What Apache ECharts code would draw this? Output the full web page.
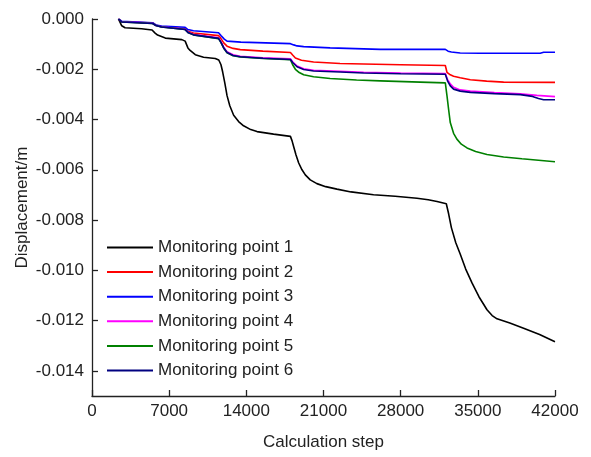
<!DOCTYPE html>
<html>
<head>
<meta charset="utf-8">
<title>Displacement vs calculation step</title>
<script src="https://cdn.jsdelivr.net/npm/echarts@6/dist/echarts.min.js"></script>
<style>
  html, body { margin: 0; padding: 0; background: #fff; }
  #chart { width: 591px; height: 457px; }
</style>
</head>
<body>
<div id="chart"></div>
<script>
// Monitoring point displacement histories (m) against calculation step
const seriesNames = ['Monitoring point 1', 'Monitoring point 2', 'Monitoring point 3',
                     'Monitoring point 4', 'Monitoring point 5', 'Monitoring point 6'];

const point1Steps = [2400, 2700, 3000, 4500, 5450, 5700, 5950, 6650, 8150, 8450, 8700, 8900, 9370, 10120, 11180, 11500, 11700, 11850, 12050, 12250, 12500, 12850, 13300, 13750, 14400, 14970, 16470, 18000, 18150, 18290, 18500, 18750, 19050, 19350, 19800, 20400, 21200, 22220, 23500, 25540, 27500, 29480, 30500, 31300, 32140, 32350, 32600, 33000, 33400, 33900, 34470, 35100, 35830, 36300, 36740, 37900, 39150, 40600, 42000];
const point1Values = [0, -0.00027, -0.00035, -0.00039, -0.00044, -0.00055, -0.00064, -0.00076, -0.00082, -0.00088, -0.00115, -0.00125, -0.00142, -0.00152, -0.00157, -0.00163, -0.00182, -0.00210, -0.00255, -0.00305, -0.00345, -0.00383, -0.00408, -0.00425, -0.00440, -0.00448, -0.00458, -0.00467, -0.00485, -0.00507, -0.00540, -0.00573, -0.00600, -0.00620, -0.00640, -0.00655, -0.00667, -0.00677, -0.00688, -0.00699, -0.00705, -0.00713, -0.00719, -0.00726, -0.00735, -0.00775, -0.00830, -0.00890, -0.00935, -0.00995, -0.01050, -0.01105, -0.01157, -0.01180, -0.01193, -0.01210, -0.01230, -0.01255, -0.01284];

const point2Steps = [2400, 2700, 5500, 5800, 6300, 8450, 8750, 9200, 11480, 11700, 11950, 12250, 12800, 13450, 15500, 18000, 18200, 18450, 19000, 20100, 22500, 24640, 28000, 32050, 32200, 32500, 32800, 33400, 34320, 35800, 37340, 42000];
const point2Values = [0, -0.00010, -0.00016, -0.00025, -0.00030, -0.00039, -0.00050, -0.00056, -0.00066, -0.00078, -0.00095, -0.00108, -0.00117, -0.00122, -0.00128, -0.00133, -0.00143, -0.00155, -0.00164, -0.00171, -0.00177, -0.00179, -0.00182, -0.00185, -0.00212, -0.00222, -0.00228, -0.00234, -0.00242, -0.00247, -0.00251, -0.00252];

const point3Steps = [2400, 2700, 5500, 5800, 6300, 8450, 8700, 9200, 11480, 11700, 12000, 12250, 13500, 15000, 18000, 18300, 18600, 19200, 21600, 26150, 32050, 32300, 32600, 33400, 35200, 40660, 40970, 42000];
const point3Values = [0, -0.00009, -0.00015, -0.00024, -0.00028, -0.00033, -0.00042, -0.00047, -0.00055, -0.00066, -0.00080, -0.00088, -0.00092, -0.00094, -0.00098, -0.00103, -0.00107, -0.00110, -0.00115, -0.00121, -0.00121, -0.00128, -0.00131, -0.00135, -0.00136, -0.00136, -0.00132, -0.00132];

const point4Steps = [2400, 2700, 5500, 5800, 6300, 8450, 8750, 9200, 11480, 11700, 11950, 12250, 12800, 13450, 15500, 18000, 18200, 18600, 19200, 20100, 22500, 24640, 28000, 32050, 32250, 32500, 32800, 33400, 34320, 36500, 38850, 40360, 42000];
const point4Values = [0, -0.00011, -0.00017, -0.00026, -0.00031, -0.00041, -0.00053, -0.00061, -0.00075, -0.00090, -0.00112, -0.00130, -0.00142, -0.00148, -0.00154, -0.00158, -0.00170, -0.00187, -0.00198, -0.00204, -0.00208, -0.00212, -0.00215, -0.00217, -0.00240, -0.00258, -0.00272, -0.00282, -0.00287, -0.00293, -0.00298, -0.00304, -0.00309];

const point5Steps = [2400, 2700, 5500, 5800, 6300, 8450, 8750, 9200, 11480, 11700, 11950, 12250, 12800, 13450, 15500, 18000, 18200, 18450, 18800, 19200, 20100, 21600, 24000, 26150, 29780, 32050, 32200, 32350, 32500, 32800, 33100, 33500, 34020, 34800, 35830, 37340, 39000, 40500, 42000];
const point5Values = [0, -0.00012, -0.00018, -0.00026, -0.00032, -0.00042, -0.00055, -0.00063, -0.00078, -0.00094, -0.00116, -0.00134, -0.00146, -0.00151, -0.00157, -0.00162, -0.00182, -0.00200, -0.00213, -0.00222, -0.00230, -0.00237, -0.00243, -0.00246, -0.00251, -0.00254, -0.00305, -0.00360, -0.00412, -0.00455, -0.00478, -0.00498, -0.00513, -0.00527, -0.00539, -0.00549, -0.00556, -0.00562, -0.00568];

const point6Steps = [2400, 2700, 5500, 5800, 6300, 8450, 8750, 9200, 11480, 11700, 11950, 12250, 12800, 13450, 15500, 18000, 18200, 18600, 19200, 20100, 22500, 24640, 28000, 32050, 32250, 32500, 32800, 33400, 34320, 36500, 38850, 39960, 40500, 40970, 42000];
const point6Values = [0, -0.00012, -0.00018, -0.00026, -0.00032, -0.00042, -0.00055, -0.00063, -0.00077, -0.00093, -0.00115, -0.00133, -0.00145, -0.00150, -0.00156, -0.00161, -0.00173, -0.00190, -0.00201, -0.00207, -0.00211, -0.00215, -0.00218, -0.00220, -0.00246, -0.00266, -0.00279, -0.00287, -0.00292, -0.00297, -0.00301, -0.00308, -0.00316, -0.00321, -0.00321];

const seriesColors = ['#000000', '#ff0000', '#0000ff', '#ff00ff', '#008000', '#000080'];

const yTickValues = [0, -0.002, -0.004, -0.006, -0.008, -0.010, -0.012, -0.014];

const stepLists = [point1Steps, point2Steps, point3Steps, point4Steps, point5Steps, point6Steps];
const valueLists = [point1Values, point2Values, point3Values, point4Values, point5Values, point6Values];

const zip = (xs, ys) => xs.map((x, i) => [x, ys[i]]);

const textColor = '#222';
const font = 'Liberation Sans, Arial, sans-serif';

const chart = echarts.init(document.getElementById('chart'), null, { renderer: 'canvas' });

chart.setOption({
  animation: false,
  backgroundColor: '#fff',
  grid: { left: 92, right: 36, top: 19, bottom: 61 },
  legend: {
    orient: 'vertical',
    left: 102,
    top: 234,
    icon: 'rect',
    itemWidth: 46,
    itemHeight: 2,
    itemGap: 7.6,
    data: seriesNames,
    textStyle: { fontFamily: font, fontSize: 17, color: textColor }
  },
  xAxis: {
    type: 'value',
    min: 0,
    max: 42000,
    interval: 7000,
    name: 'Calculation step',
    nameLocation: 'middle',
    nameGap: 38,
    nameMoveOverlap: false,
    nameTextStyle: { fontFamily: font, fontSize: 17, color: textColor },
    axisLine: { onZero: false, lineStyle: { color: '#222', width: 1.3 } },
    axisTick: { show: true, inside: true, length: 6, lineStyle: { color: '#222', width: 1.3 } },
    axisLabel: { fontFamily: font, fontSize: 17, color: textColor, margin: 7, formatter: v => String(v) },
    splitLine: { show: false }
  },
  yAxis: {
    type: 'value',
    min: -0.015,
    max: 0,
    name: 'Displacement/m',
    nameLocation: 'middle',
    nameGap: 61,
    nameMoveOverlap: false,
    nameTextStyle: { fontFamily: font, fontSize: 17, color: textColor },
    axisLine: { show: true, onZero: false, lineStyle: { color: '#222', width: 1.3 } },
    axisTick: { show: true, inside: true, length: 6, customValues: yTickValues, lineStyle: { color: '#222', width: 1.3 } },
    axisLabel: {
      fontFamily: font, fontSize: 17, color: textColor, margin: 8,
      customValues: yTickValues,
      formatter: v => v.toFixed(3)
    },
    splitLine: { show: false }
  },
  series: seriesNames.map((name, i) => ({
    name,
    type: 'line',
    symbol: 'none',
    color: seriesColors[i],
    lineStyle: { width: 1.6, color: seriesColors[i] },
    data: zip(stepLists[i], valueLists[i])
  }))
});
</script>
</body>
</html>
